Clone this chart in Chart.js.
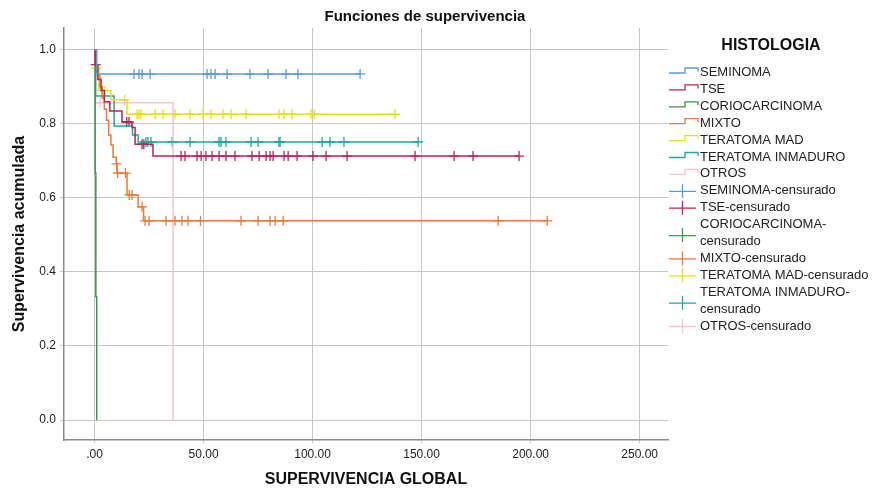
<!DOCTYPE html>
<html>
<head>
<meta charset="utf-8">
<script src="https://cdn.jsdelivr.net/npm/chart.js@4.4.1/dist/chart.umd.min.js"></script>
<style>
  html, body { margin: 0; padding: 0; background: #fff; }
</style>
</head>
<body>
<canvas id="km" width="878" height="491"></canvas>
<script>
// ===================== DATOS =====================
// tiempos (meses) y supervivencia acumulada de cada curva escalonada
const seminomaT = [0, 1, 121.8]
const seminomaS = [1, 0.935, 0.935]
const seminomaCens = [18.1, 20.4, 21.8, 25.5, 51.6, 53.4, 55.3, 60.8, 71.3, 79.6, 87.8, 93.3, 121.8]

const tseT = [0, 0.3, 1.5, 3, 4.5, 7, 12.6, 17.2, 18.6, 26.8, 194.7]
const tseS = [1, 0.96, 0.92, 0.89, 0.86, 0.835, 0.805, 0.79, 0.745, 0.713, 0.713]
const tseCens = [0.5, 14.8, 15.8, 21.8, 22.6, 39.7, 41.5, 47.0, 48.9, 51.1, 53.9, 57.1, 60.3, 64.4,
  72.2, 75.5, 78.7, 80.5, 81.9, 86.9, 88.8, 92.9, 100.2, 106.2, 115.8, 147.0, 164.9, 173.6, 194.7]

const corioT = [0, 0.3, 0.6, 1.0]
const corioS = [1, 0.667, 0.333, 0]
const corioCens = []

const mixtoT = [0, 0.5, 1.5, 2.5, 3.5, 4.5, 5.5, 6.5, 7.5, 8.5, 10, 10.3, 14.9, 20, 22.5, 207.6]
const mixtoS = [1, 0.96, 0.93, 0.90, 0.87, 0.84, 0.81, 0.77, 0.743, 0.71, 0.692, 0.667, 0.608, 0.576, 0.538, 0.538]
const mixtoCens = [10.1, 10.6, 14.2, 15.9, 17.2, 21.8, 23.2, 25.0, 32.8, 36.9, 40.1, 42.9, 48.6,
  67.2, 75.0, 80.5, 82.8, 86.5, 185.1, 207.6]

const madT = [0, 0.5, 2, 7.5, 14.9, 137.8]
const madS = [1, 0.95, 0.89, 0.865, 0.826, 0.826]
const madCens = [0.8, 3.5, 4.8, 13.8, 19.5, 20.4, 21.3, 27.8, 31.4, 36.9, 43.8, 49.8, 53.4, 58.9,
  62.6, 69.5, 84.6, 86.9, 90.6, 99.3, 100.7, 137.8]

const inmT = [0, 0.5, 9, 17.4, 20, 148.4]
const inmS = [1, 0.875, 0.794, 0.77, 0.751, 0.751]
const inmCens = [23.6, 24.5, 25.9, 35.6, 43.8, 57.1, 58.0, 60.3, 71.8, 75.0, 84.6, 85.1, 104.4, 108.0, 114.4, 148.4]

const otrosT = [0, 0.5, 36.0]
const otrosS = [1, 0.857, 0]
const otrosCens = [2.5]

// ejes
const xTicks = [0, 50, 100, 150, 200, 250]
const xTickLabels = ['.00', '50.00', '100.00', '150.00', '200.00', '250.00']
const yTicks = [0, 0.2, 0.4, 0.6, 0.8, 1.0]
const yTickLabels = ['0.0', '0.2', '0.4', '0.6', '0.8', '1.0']

// grupos y leyenda
const grupos = ['SEMINOMA', 'TSE', 'CORIOCARCINOMA', 'MIXTO', 'TERATOMA MAD', 'TERATOMA INMADURO', 'OTROS']
const colores = ['#5b9bd5', '#b8245c', '#3f9250', '#ea7a35', '#e3df1e', '#21a79f', '#f6c3d0']
const leyendaCens = [['SEMINOMA-censurado'], ['TSE-censurado'], ['CORIOCARCINOMA-', 'censurado'],
  ['MIXTO-censurado'], ['TERATOMA MAD-censurado'], ['TERATOMA INMADURO-', 'censurado'], ['OTROS-censurado']]

const tiempos = [seminomaT, tseT, corioT, mixtoT, madT, inmT, otrosT]
const superv = [seminomaS, tseS, corioS, mixtoS, madS, inmS, otrosS]
const censuras = [seminomaCens, tseCens, corioCens, mixtoCens, madCens, inmCens, otrosCens]

const FONT = '"Liberation Sans", Arial, sans-serif'

// valor de la curva en el tiempo t (para poner las cruces de censura sobre la línea)
function valorEn(t, T, S) {
  let v = S[0]
  for (let i = 0; i < T.length; i++) {
    if (T[i] <= t) v = S[i]
  }
  return v
}

// ===================== DATASETS =====================
const datasets = []
grupos.forEach((g, k) => {
  datasets.push({
    label: g,
    data: tiempos[k].map((t, i) => ({ x: t, y: superv[k][i] })),
    stepped: true,
    borderColor: colores[k],
    borderWidth: 1.5,
    pointRadius: 0,
    fill: false
  })
})
grupos.forEach((g, k) => {
  datasets.push({
    label: g + '-censurado',
    data: censuras[k].map(t => ({ x: t, y: valorEn(t, tiempos[k], superv[k]) })),
    showLine: false,
    pointStyle: 'cross',
    pointRadius: 5,
    pointBorderWidth: 1.3,
    borderColor: colores[k],
    backgroundColor: colores[k]
  })
})

// ===================== LEYENDA Y TÍTULO (dibujados a mano) =====================
const leyendaPlugin = {
  id: 'leyendaKM',
  afterDraw(chart) {
    const ctx = chart.ctx
    ctx.save()
    ctx.fillStyle = '#111'
    ctx.textAlign = 'center'
    ctx.textBaseline = 'middle'
    ctx.font = 'bold 15px ' + FONT
    ctx.fillText('Funciones de supervivencia', 425, 17)

    ctx.font = 'bold 16px ' + FONT
    ctx.fillText('HISTOLOGIA', 771, 46)

    ctx.textAlign = 'left'
    ctx.font = '13px ' + FONT
    ctx.lineWidth = 1.3
    const y0 = 72.5, paso = 16.9
    let fila = 0
    // curvas
    grupos.forEach((g, k) => {
      const c = y0 + paso * fila
      ctx.strokeStyle = colores[k]
      ctx.beginPath()
      ctx.moveTo(669, c + 0.5)
      ctx.lineTo(685, c + 0.5)
      ctx.lineTo(685, c - 4.5)
      ctx.lineTo(698, c - 4.5)
      ctx.lineTo(698, c - 1)
      ctx.stroke()
      ctx.fillStyle = '#222'
      ctx.fillText(g, 700, c)
      fila++
    })
    // censuras
    leyendaCens.forEach((lineas, k) => {
      const c = y0 + paso * fila
      const cm = c + paso * (lineas.length - 1) / 2 + (lineas.length > 1 ? 2 : 0)
      ctx.strokeStyle = colores[k]
      ctx.beginPath()
      ctx.moveTo(669, cm + 0.5)
      ctx.lineTo(696, cm + 0.5)
      ctx.moveTo(682.5, cm - 7)
      ctx.lineTo(682.5, cm + 7)
      ctx.stroke()
      ctx.fillStyle = '#222'
      lineas.forEach((txt, j) => ctx.fillText(txt, 700, c + paso * j))
      fila += lineas.length
    })
    ctx.restore()
  }
}

// ===================== GRÁFICO =====================
const ctxKM = document.getElementById('km').getContext('2d')
const chartKM = new Chart(ctxKM, {
  type: 'line',
  data: { datasets: datasets },
  options: {
    responsive: false,
    animation: false,
    layout: { padding: { left: 0, right: 210, top: 28, bottom: 0 } },
    plugins: {
      legend: { display: false },
      tooltip: { enabled: false }
    },
    scales: {
      x: {
        type: 'linear',
        min: -14,
        max: 263,
        afterBuildTicks: s => { s.ticks = xTicks.map(v => ({ value: v })) },
        afterFit: s => { s.height = 51 },
        ticks: {
          callback: (v) => xTickLabels[xTicks.indexOf(v)],
          color: '#222',
          font: { family: FONT, size: 12 },
          maxRotation: 0,
          padding: 4
        },
        grid: { color: '#c6c6c6', lineWidth: 1, tickLength: 3 },
        border: { color: '#8a8a8a', width: 1.5 },
        title: {
          display: true,
          text: 'SUPERVIVENCIA GLOBAL',
          color: '#111',
          font: { family: FONT, size: 16, weight: 'bold' },
          padding: { top: 0, bottom: 2 }
        }
      },
      y: {
        type: 'linear',
        min: -0.054,
        max: 1.059,
        afterBuildTicks: s => { s.ticks = yTicks.map(v => ({ value: v })) },
        afterFit: s => { s.width = 64 },
        ticks: {
          callback: (v) => yTickLabels[yTicks.indexOf(v)],
          color: '#222',
          font: { family: FONT, size: 12 },
          padding: 4
        },
        grid: { color: '#c6c6c6', lineWidth: 1, tickLength: 4 },
        border: { color: '#8a8a8a', width: 1.5 },
        title: {
          display: true,
          text: 'Supervivencia acumulada',
          color: '#111',
          font: { family: FONT, size: 16, weight: 'bold' },
          padding: { top: 10, bottom: 0 }
        }
      }
    }
  },
  plugins: [leyendaPlugin]
})
</script>
</body>
</html>
